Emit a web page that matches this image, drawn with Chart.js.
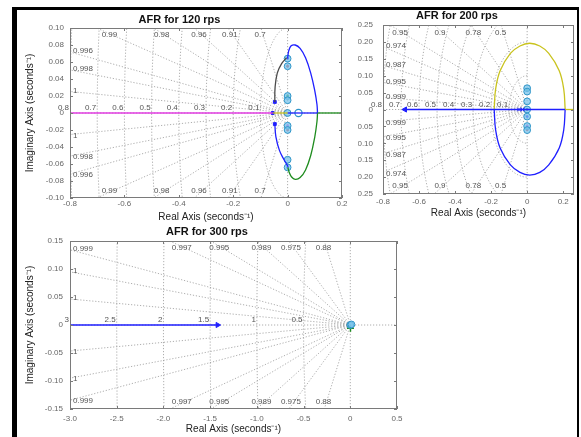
<!DOCTYPE html>
<html>
<head>
<meta charset="utf-8">
<script src="https://cdn.jsdelivr.net/npm/chart.js@4.4.1/dist/chart.umd.min.js"></script>
<style>
  html, body { margin: 0; padding: 0; background: #fff; }
  body { width: 581px; height: 437px; position: relative; overflow: hidden; }
  canvas { position: absolute; }
  #clip200 { position: absolute; left: 358px; top: 8px; width: 220px; height: 218px; overflow: hidden; }
  #frame { position: absolute; left: 12px; top: 7px; width: 560px; height: 440px;
           border-left: 5px solid #000; border-top: 3px solid #000; border-right: 2px solid #000;
           pointer-events: none; z-index: 5; }
</style>
</head>
<body>
<canvas id="afr120" width="434" height="215" style="left:17px;top:10px"></canvas>
<div id="clip200"><canvas id="afr200" width="302" height="216" style="left:-18px;top:1px"></canvas></div>
<canvas id="afr300" width="432" height="215" style="left:17px;top:222px"></canvas>
<div id="frame"></div>
<script>
// ---- 120 rps ----
const xTicks120 = [-0.8, -0.6, -0.4, -0.2, 0, 0.2];
const yTicks120 = [-0.1, -0.08, -0.06, -0.04, -0.02, 0, 0.02, 0.04, 0.06, 0.08, 0.1];
const zeta120 = [0.99, 0.98, 0.96, 0.91, 0.7, 0.996, 0.998, 0.9995];
const zetaText120 = ['0.99', '0.98', '0.96', '0.91', '0.7', '0.996', '0.998', '1'];
const wn120 = [0.8, 0.7, 0.6, 0.5, 0.4, 0.3, 0.2, 0.1];

const magentaAxis120 = [[-0.8, 0], [-0.055, 0]];
const yellowAxis120 = [[-0.055, 0], [0, 0]];
const blueAxis120 = [[0, 0], [0.11, 0]];
const greenAxis120 = [[0.11, 0], [0.2, 0]];
const greyBranch120 = [[-0.047, 0.013], [-0.046, 0.03], [-0.038, 0.047], [-0.022, 0.058], [-0.004, 0.065]];
const blueBranch120 = [[-0.047, -0.013], [-0.043, -0.028], [-0.03, -0.044], [-0.013, -0.055], [0.002, -0.063]];
const blueLoop120 = [[0, 0.064], [0.004, 0.073], [0.013, 0.079], [0.028, 0.08], [0.046, 0.076], [0.066, 0.065],
                     [0.085, 0.047], [0.1, 0.026], [0.108, 0.01], [0.11, 0]];
const greenLoop120 = [[0.11, 0], [0.108, -0.01], [0.1, -0.028], [0.085, -0.05], [0.066, -0.067], [0.046, -0.076],
                      [0.028, -0.078], [0.014, -0.075], [0.005, -0.069], [0.001, -0.064]];
const poles120 = [[0, 0.064], [0, 0.055], [0, 0.02], [0, 0.015], [0, 0], [0, -0.015], [0, -0.02], [0, -0.055], [0, -0.064]];
const dots120 = [[0, 0.064], [0, 0.055], [0, 0.02], [0, -0.015], [0, -0.02], [0, -0.064]];
const dotColors120 = ['#1f1fff', '#e03030', '#1e9a1e', '#e23de2', '#e03030', '#1f1fff'];
const zero120 = [[0.04, 0]];
const starts120 = [[-0.047, 0.013], [-0.047, -0.013], [-0.055, 0]];

// ---- 200 rps ----
const xTicks200 = [-0.8, -0.6, -0.4, -0.2, 0, 0.2];
const yTicks200 = [-0.25, -0.2, -0.15, -0.1, -0.05, 0, 0.05, 0.1, 0.15, 0.2, 0.25];
const zeta200 = [0.95, 0.9, 0.78, 0.5, 0.974, 0.987, 0.995, 0.999];
const zetaText200 = ['0.95', '0.9', '0.78', '0.5', '0.974', '0.987', '0.995', '0.999'];
const wn200 = [0.8, 0.7, 0.6, 0.5, 0.4, 0.3, 0.2, 0.1];

const blueAxis200 = [[-0.678, 0], [0.211, 0]];
const yellowAxis200 = [[0.211, 0], [0.26, 0]];
const yellowLoop200 = [[-0.183, 0], [-0.175, 0.06], [-0.15, 0.115], [-0.093, 0.166], [-0.04, 0.188], [0.014, 0.196],
                       [0.07, 0.188], [0.12, 0.166], [0.178, 0.115], [0.203, 0.06], [0.211, 0]];
const blueLoop200 = [[-0.183, 0], [-0.175, -0.06], [-0.15, -0.114], [-0.093, -0.164], [-0.04, -0.186], [0.014, -0.194],
                     [0.07, -0.186], [0.12, -0.164], [0.178, -0.114], [0.203, -0.06], [0.211, 0]];
const poles200 = [[0, 0.063], [0, 0.053], [0, 0.024], [0, 0], [0, -0.021], [0, -0.049], [0, -0.061]];
const dots200 = [[0, 0.058], [0, 0], [0, -0.021], [0, -0.049], [0, -0.06]];
const dotColors200 = ['#1e9a1e', '#1a1a80', '#1f1fff', '#e23de2', '#e03030'];
const arrow200 = [[-0.678, 0]];
const marks200 = [[-0.045, 0], [-0.025, 0]];

// ---- 300 rps ----
const xTicks300 = [-3, -2.5, -2, -1.5, -1, -0.5, 0, 0.5];
const yTicks300 = [-0.15, -0.1, -0.05, 0, 0.05, 0.1, 0.15];
const zeta300 = [0.997, 0.995, 0.989, 0.975, 0.88, 0.999, 0.9995, 0.99988];
const zetaText300 = ['0.997', '0.995', '0.989', '0.975', '0.88', '0.999', '1', '1'];
const wn300 = [3, 2.5, 2, 1.5, 1, 0.5];

const blueAxis300 = [[-3, 0], [-1.42, 0]];
const arrow300 = [[-1.42, 0]];
const poles300 = [[0, 0], [0.012, 0.001]];
const cross300 = [[0.002, -0.006]];

const FONT = '"Liberation Sans", Arial, sans-serif';
const BLUE = '#1f1fff', GREEN = '#1e8c1e', MAGENTA = '#e23de2', YELLOW = '#c9c31e', GREY = '#4a4a4a';

const toXY = pts => pts.map(([x, y]) => ({ x, y }));

function line(data, color) {
  return { data: toXY(data), showLine: true, borderColor: color, borderWidth: 1.3, pointRadius: 0, tension: 0.4, fill: false };
}
function marks(data, opts) {
  return Object.assign({ data: toXY(data), showLine: false }, opts);
}
function poleMarks(data) {
  return marks(data, { pointRadius: 3.4, pointBackgroundColor: 'rgba(120,195,235,0.75)', pointBorderColor: '#2f95c8', pointBorderWidth: 1 });
}

// damping-ratio rays, natural-frequency arcs, box and inward ticks
const sgridPlugin = {
  id: 'sgrid',
  beforeDatasetsDraw(chart, args, opts) {
    const { ctx, chartArea: a, scales: { x, y } } = chart;
    const X = v => x.getPixelForValue(v), Y = v => y.getPixelForValue(v);
    ctx.save();
    ctx.beginPath();
    ctx.rect(a.left, a.top, a.right - a.left, a.bottom - a.top);
    ctx.clip();
    ctx.strokeStyle = '#999';
    ctx.lineWidth = 0.8;
    ctx.setLineDash([1.2, 1.8]);
    ctx.beginPath();
    ctx.moveTo(a.left, Y(0)); ctx.lineTo(a.right, Y(0));
    ctx.moveTo(X(0), a.top); ctx.lineTo(X(0), a.bottom);
    opts.zeta.forEach(z => {
      const s = Math.sqrt(1 - z * z) / z;
      ctx.moveTo(X(0), Y(0)); ctx.lineTo(X(x.min), Y(-x.min * s));
      ctx.moveTo(X(0), Y(0)); ctx.lineTo(X(x.min), Y(x.min * s));
    });
    opts.wn.forEach(w => {
      for (let d = 90; d <= 270; d += 2) {
        const t = d * Math.PI / 180;
        const px = X(w * Math.cos(t)), py = Y(w * Math.sin(t));
        if (d === 90) ctx.moveTo(px, py); else ctx.lineTo(px, py);
      }
    });
    ctx.stroke();
    ctx.restore();

    ctx.save();
    ctx.fillStyle = '#555';
    ctx.font = '8px ' + FONT;
    ctx.textBaseline = 'middle';
    opts.zeta.forEach((z, i) => {
      const s = Math.sqrt(1 - z * z) / z;
      const txt = opts.zetaText[i];
      if (-y.max / s >= x.min) {
        const py = a.top + opts.inset;
        const xv = -y.getValueForPixel(py) / s;
        ctx.textAlign = 'center';
        ctx.fillText(txt, X(xv) - 3, py);
        ctx.fillText(txt, X(xv) - 3, a.bottom - opts.inset);
      } else {
        const ye = -x.min * s;
        ctx.textAlign = 'left';
        ctx.fillText(txt, a.left + 3, Y(ye) - 1);
        ctx.fillText(txt, a.left + 3, Y(-ye) + 1);
      }
    });
    ctx.textAlign = 'right';
    opts.wn.forEach(w => ctx.fillText(String(w), X(-w) - 1, Y(0) - 5));
    ctx.restore();
  },
  afterDatasetsDraw(chart) {
    const { ctx, chartArea: a, scales: { x, y } } = chart;
    ctx.save();
    ctx.strokeStyle = '#7a7a7a';
    ctx.lineWidth = 1;
    ctx.strokeRect(a.left + 0.5, a.top + 0.5, a.right - a.left - 1, a.bottom - a.top - 1);
    ctx.beginPath();
    x.ticks.forEach(t => {
      const p = Math.round(x.getPixelForValue(t.value)) + 0.5;
      ctx.moveTo(p, a.bottom); ctx.lineTo(p, a.bottom - 3);
      ctx.moveTo(p, a.top); ctx.lineTo(p, a.top + 3);
    });
    y.ticks.forEach(t => {
      const p = Math.round(y.getPixelForValue(t.value)) + 0.5;
      ctx.moveTo(a.left, p); ctx.lineTo(a.left + 3, p);
      ctx.moveTo(a.right, p); ctx.lineTo(a.right - 3, p);
    });
    ctx.stroke();
    ctx.restore();
  }
};

function afr(id, o) {
  return new Chart(document.getElementById(id), {
    type: 'scatter',
    data: { datasets: o.datasets },
    options: {
      responsive: false,
      animation: false,
      events: [],
      layout: { padding: { left: 0, top: 0, right: o.padRight, bottom: 0 } },
      plugins: {
        legend: { display: false },
        tooltip: { enabled: false },
        title: { display: true, text: o.title, color: '#111',
                 font: { family: FONT, size: 11, weight: 'bold' },
                 padding: { top: o.titleTop, bottom: o.titleBottom } },
        sgrid: { zeta: o.zeta, zetaText: o.zetaText, wn: o.wn, inset: o.inset }
      },
      scales: {
        x: {
          type: 'linear', min: o.xMin, max: o.xMax,
          afterBuildTicks: s => { s.ticks = o.xTicks.map(v => ({ value: v })); },
          afterFit: s => { s.height = o.xHeight; },
          grid: { display: false, drawTicks: false }, border: { display: false },
          ticks: { padding: o.xTickPad, color: '#666', font: { family: FONT, size: 8 }, maxRotation: 0, autoSkip: false },
          title: { display: true, text: 'Real Axis (seconds⁻¹)', color: '#222',
                   font: { family: FONT, size: 10 }, padding: { top: 0, bottom: o.xTitlePad } }
        },
        y: {
          type: 'linear', min: o.yMin, max: o.yMax,
          afterBuildTicks: s => { s.ticks = o.yTicks.map(v => ({ value: v })); },
          afterFit: s => { s.width = o.yWidth; },
          grid: { display: false, drawTicks: false }, border: { display: false },
          ticks: { padding: o.yTickPad, color: '#666', font: { family: FONT, size: 8 }, autoSkip: false },
          title: { display: o.yTitle, text: 'Imaginary Axis (seconds⁻¹)', color: '#222',
                   font: { family: FONT, size: 10 }, padding: { top: 7, bottom: 0 } }
        }
      }
    },
    plugins: [sgridPlugin]
  });
}

afr('afr120', {
  title: 'AFR for 120 rps',
  xMin: -0.8, xMax: 0.2, yMin: -0.1, yMax: 0.1, xTicks: xTicks120, yTicks: yTicks120,
  zeta: zeta120, zetaText: zetaText120, wn: wn120, inset: 7,
  padRight: 109, titleTop: 3.4, titleBottom: 1.4, xHeight: 27, yWidth: 53,
  xTickPad: 1, yTickPad: 6, xTitlePad: 2, yTitle: true,
  datasets: [
    line(magentaAxis120, MAGENTA), line(yellowAxis120, YELLOW), line(blueAxis120, BLUE), line(greenAxis120, GREEN),
    line(greyBranch120, GREY), line(blueBranch120, BLUE), line(blueLoop120, BLUE), line(greenLoop120, GREEN),
    marks(starts120, { pointStyle: 'rect', pointRadius: 2, pointBackgroundColor: BLUE, pointBorderColor: BLUE }),
    poleMarks(poles120),
    marks(zero120, { pointRadius: 3.6, pointBackgroundColor: '#fff', pointBorderColor: '#2f95c8', pointBorderWidth: 1.2 }),
    marks(dots120, { pointRadius: 1.4, pointBackgroundColor: dotColors120, pointBorderWidth: 0 })
  ]
});

afr('afr200', {
  title: 'AFR for 200 rps',
  xMin: -0.8, xMax: 0.26, yMin: -0.25, yMax: 0.25, xTicks: xTicks200, yTicks: yTicks200,
  zeta: zeta200, zetaText: zetaText200, wn: wn200, inset: 8,
  padRight: 68, titleTop: 0.4, titleBottom: 2.4, xHeight: 31, yWidth: 43,
  xTickPad: 3, yTickPad: 10, xTitlePad: 6, yTitle: false,
  datasets: [
    line(blueAxis200, BLUE), line(yellowAxis200, YELLOW), line(yellowLoop200, YELLOW), line(blueLoop200, BLUE),
    marks(arrow200, { pointStyle: 'triangle', rotation: -90, pointRadius: 3, pointBackgroundColor: BLUE, pointBorderColor: BLUE }),
    marks(marks200, { pointStyle: 'crossRot', pointRadius: 2.5, pointBorderColor: BLUE, pointBorderWidth: 1 }),
    poleMarks(poles200),
    marks(dots200, { pointRadius: 1.4, pointBackgroundColor: dotColors200, pointBorderWidth: 0 })
  ]
});

afr('afr300', {
  title: 'AFR for 300 rps',
  xMin: -3, xMax: 0.5, yMin: -0.15, yMax: 0.15, xTicks: xTicks300, yTicks: yTicks300,
  zeta: zeta300, zetaText: zetaText300, wn: wn300, inset: 7,
  padRight: 52, titleTop: 3.4, titleBottom: 2.4, xHeight: 28, yWidth: 53,
  xTickPad: 5, yTickPad: 7, xTitlePad: 2, yTitle: true,
  datasets: [
    line(blueAxis300, BLUE),
    marks(arrow300, { pointStyle: 'triangle', rotation: 90, pointRadius: 3, pointBackgroundColor: BLUE, pointBorderColor: BLUE }),
    poleMarks(poles300),
    marks(cross300, { pointStyle: 'cross', pointRadius: 3.5, pointBorderColor: GREEN, pointBorderWidth: 1.5 })
  ]
});
</script>
</body>
</html>
